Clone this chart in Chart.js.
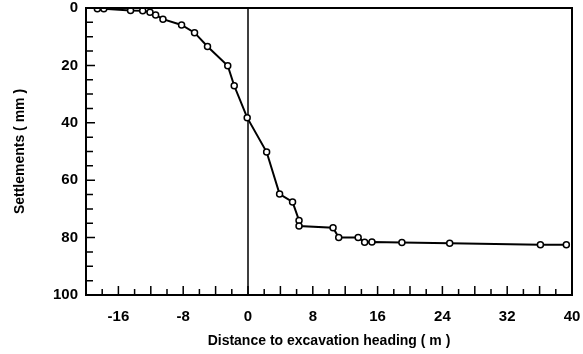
<!DOCTYPE html>
<html>
<head>
<meta charset="utf-8">
<script src="https://cdn.jsdelivr.net/npm/chart.js@4"></script>
<style>
  html, body { margin: 0; padding: 0; background: #fff; }
  #wrap { width: 583px; height: 354px; }
</style>
</head>
<body>
<div id="wrap"><canvas id="chart" width="583" height="354"></canvas></div>
<script>
// distance to excavation heading (m) and measured settlement (mm)
const distance = [-18.6, -17.8, -14.5, -13.0, -12.1, -11.4, -10.5, -8.2, -6.6, -5.0, -2.5, -1.7, -0.1,
    2.3, 3.9, 5.5, 6.3, 6.3, 10.5, 11.2, 13.6, 14.4, 15.3, 19.0, 24.9, 36.1, 39.3];
const settlement = [0.3, 0.3, 0.9, 1.0, 1.5, 2.4, 3.9, 5.9, 8.6, 13.4, 20.1, 27.1, 38.2,
    50.2, 64.8, 67.6, 74.0, 76.0, 76.6, 80.0, 80.0, 81.6, 81.5, 81.7, 82.0, 82.5, 82.5];
// excavation face position
const faceX = [0, 0];
const faceY = [0, 100];

const xTitle = 'Distance to excavation heading ( m )';
const yTitle = 'Settlements ( mm )';

const tickFont = { family: "'Liberation Sans', Arial, sans-serif", weight: 'bold', size: 15 };
const titleFont = { family: "'Liberation Sans', Arial, sans-serif", weight: 'bold', size: 14 };

// inward tick marks + frame
const frameTicks = {
    id: 'frameTicks',
    afterDraw(chart) {
        const ctx = chart.ctx;
        const a = chart.chartArea;
        const xs = chart.scales.x, ys = chart.scales.y;
        ctx.save();
        ctx.strokeStyle = '#000';
        ctx.lineWidth = 1.5;
        ctx.beginPath();
        xs.ticks.forEach(t => {
            const px = xs.getPixelForValue(t.value);
            const len = t.value % 4 === 0 ? 9 : 6;
            ctx.moveTo(px, a.bottom);
            ctx.lineTo(px, a.bottom - len);
        });
        ys.ticks.forEach(t => {
            const py = ys.getPixelForValue(t.value);
            const len = t.value % 20 === 0 ? 9 : 7;
            ctx.moveTo(a.left, py);
            ctx.lineTo(a.left + len, py);
        });
        ctx.stroke();
        ctx.lineWidth = 2;
        ctx.strokeRect(a.left, a.top, a.right - a.left, a.bottom - a.top);
        ctx.restore();
    }
};

new Chart(document.getElementById('chart'), {
    type: 'line',
    data: {
        datasets: [{
            data: distance.map((d, i) => ({ x: d, y: settlement[i] })),
            borderColor: '#000',
            borderWidth: 2,
            pointRadius: 3,
            pointBorderWidth: 1.5,
            pointBackgroundColor: '#fff',
            pointBorderColor: '#000',
            tension: 0
        }, {
            data: faceX.map((d, i) => ({ x: d, y: faceY[i] })),
            borderColor: '#000',
            borderWidth: 1.5,
            pointRadius: 0
        }]
    },
    options: {
        responsive: false,
        animation: false,
        layout: { padding: { top: 8, right: 11, left: 8, bottom: 2 } },
        plugins: { legend: { display: false }, tooltip: { enabled: false } },
        scales: {
            x: {
                type: 'linear',
                min: -20, max: 40,
                grid: { drawOnChartArea: false, drawTicks: false },
                border: { display: false },
                ticks: {
                    stepSize: 2,
                    autoSkip: false,
                    maxRotation: 0,
                    padding: 13,
                    color: '#000',
                    font: tickFont,
                    callback: v => (v % 8 === 0 ? String(v) : '')
                },
                title: { display: true, text: xTitle, color: '#000', font: titleFont, padding: { top: 0, bottom: 2 } },
                afterFit: s => { s.height = 57; s.paddingLeft = 0; s.paddingRight = 0; }
            },
            y: {
                min: 0, max: 100,
                reverse: true,
                grid: { drawOnChartArea: false, drawTicks: false },
                border: { display: false },
                ticks: {
                    stepSize: 5,
                    autoSkip: false,
                    padding: 8,
                    color: '#000',
                    font: tickFont,
                    callback: v => (v % 20 === 0 ? String(v) : '')
                },
                title: { display: true, text: yTitle, color: '#000', font: titleFont, padding: 4 },
                afterFit: s => { s.width = 78; s.paddingTop = 0; s.paddingBottom = 0; }
            }
        }
    },
    plugins: [frameTicks]
});
</script>
</body>
</html>
